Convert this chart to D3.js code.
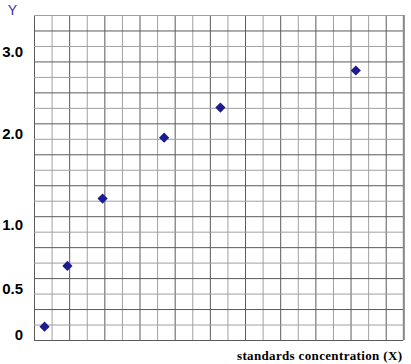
<!doctype html>
<html lang="en">
<head>
  <script src="https://d3js.org/d3.v7.min.js"></script>
  <style>
    body { margin: 0; background: #fff; }
  </style>
</head>
<body>
<div id="container"></div>
<script>
// data (x in grid units, y in chart units)
var xValues = [0.6, 1.9, 3.9, 7.4, 10.6, 18.3];
var yValues = [0.09, 0.68, 1.29, 1.96, 2.32, 2.77];
var yTicks = [0, 0.5, 1, 2, 3];
var yTickLabels = ["0", "0.5", "1.0", "2.0", "3.0"];
var xTitle = "standards concentration (X)";
var yTitle = "Y";

var width = 411, height = 364;
// note: "top" is taken by window.top, so use plotTop
var plotLeft = 34, plotRight = 403.3, plotTop = 15, plotBottom = 340;

var svg = d3.select("#container").append("svg")
    .attr("width", width)
    .attr("height", height);

// grid scales (21 x 21 cells)
var xGrid = d3.scaleLinear().domain([0, 21]).range([plotLeft, plotRight]);
var yGrid = d3.scaleLinear().domain([0, 21]).range([plotBottom, plotTop]);

// value scale on y - labels in the original are not evenly spaced
var y = d3.scaleLinear().domain(yTicks).range([335, 289, 225, 134, 51.5]);

svg.append("g")
    .attr("transform", "translate(0," + plotBottom + ")")
    .call(d3.axisBottom(xGrid).tickValues(d3.range(0, 22)).tickSize(-(plotBottom - plotTop)).tickFormat(""))
    .call(function(g) { g.select(".domain").remove(); })
    .selectAll("line")
    .attr("stroke", function(d) { return d % 2 ? "#a0a0a0" : "#5a5a5a"; })
    .attr("stroke-width", 1);

svg.append("g")
    .attr("transform", "translate(" + plotLeft + ",0)")
    .call(d3.axisLeft(yGrid).tickValues(d3.range(0, 22)).tickSize(-(plotRight - plotLeft)).tickFormat(""))
    .call(function(g) { g.select(".domain").remove(); })
    .selectAll("line")
    .attr("stroke", function(d) { return d % 2 ? "#a0a0a0" : "#5a5a5a"; })
    .attr("stroke-width", 1);

// thicker right border
svg.append("line")
    .attr("x1", plotRight + 0.5).attr("x2", plotRight + 0.5)
    .attr("y1", plotTop).attr("y2", plotBottom)
    .attr("stroke", "#888")
    .attr("stroke-width", 2);

// y labels
svg.append("g")
    .selectAll("text")
    .data(yTicks)
    .enter()
    .append("text")
    .attr("x", 23)
    .attr("y", function(d) { return y(d); })
    .attr("dy", "0.36em")
    .attr("text-anchor", "end")
    .style("font-family", "'Liberation Sans', Arial, sans-serif")
    .style("font-weight", "bold")
    .style("font-size", "15px")
    .text(function(d, i) { return yTickLabels[i]; });

svg.append("text")
    .attr("x", 12.5)
    .attr("y", 15)
    .attr("text-anchor", "middle")
    .style("font-family", "'Liberation Sans', Arial, sans-serif")
    .style("font-size", "14px")
    .attr("fill", "#3535a8")
    .text(yTitle);

svg.append("text")
    .attr("x", 402)
    .attr("y", 359.5)
    .attr("text-anchor", "end")
    .attr("textLength", 165)
    .attr("lengthAdjust", "spacing")
    .style("font-family", "'Liberation Serif', 'Times New Roman', serif")
    .style("font-weight", "bold")
    .style("font-size", "13px")
    .text(xTitle);

// points
svg.append("g")
    .selectAll("path")
    .data(xValues)
    .enter()
    .append("path")
    .attr("d", d3.symbol().type(d3.symbolSquare).size(52))
    .attr("transform", function(d, i) { return "translate(" + xGrid(d) + "," + y(yValues[i]) + ") rotate(45)"; })
    .attr("fill", "#1c1c8e");
</script>
</body>
</html>
